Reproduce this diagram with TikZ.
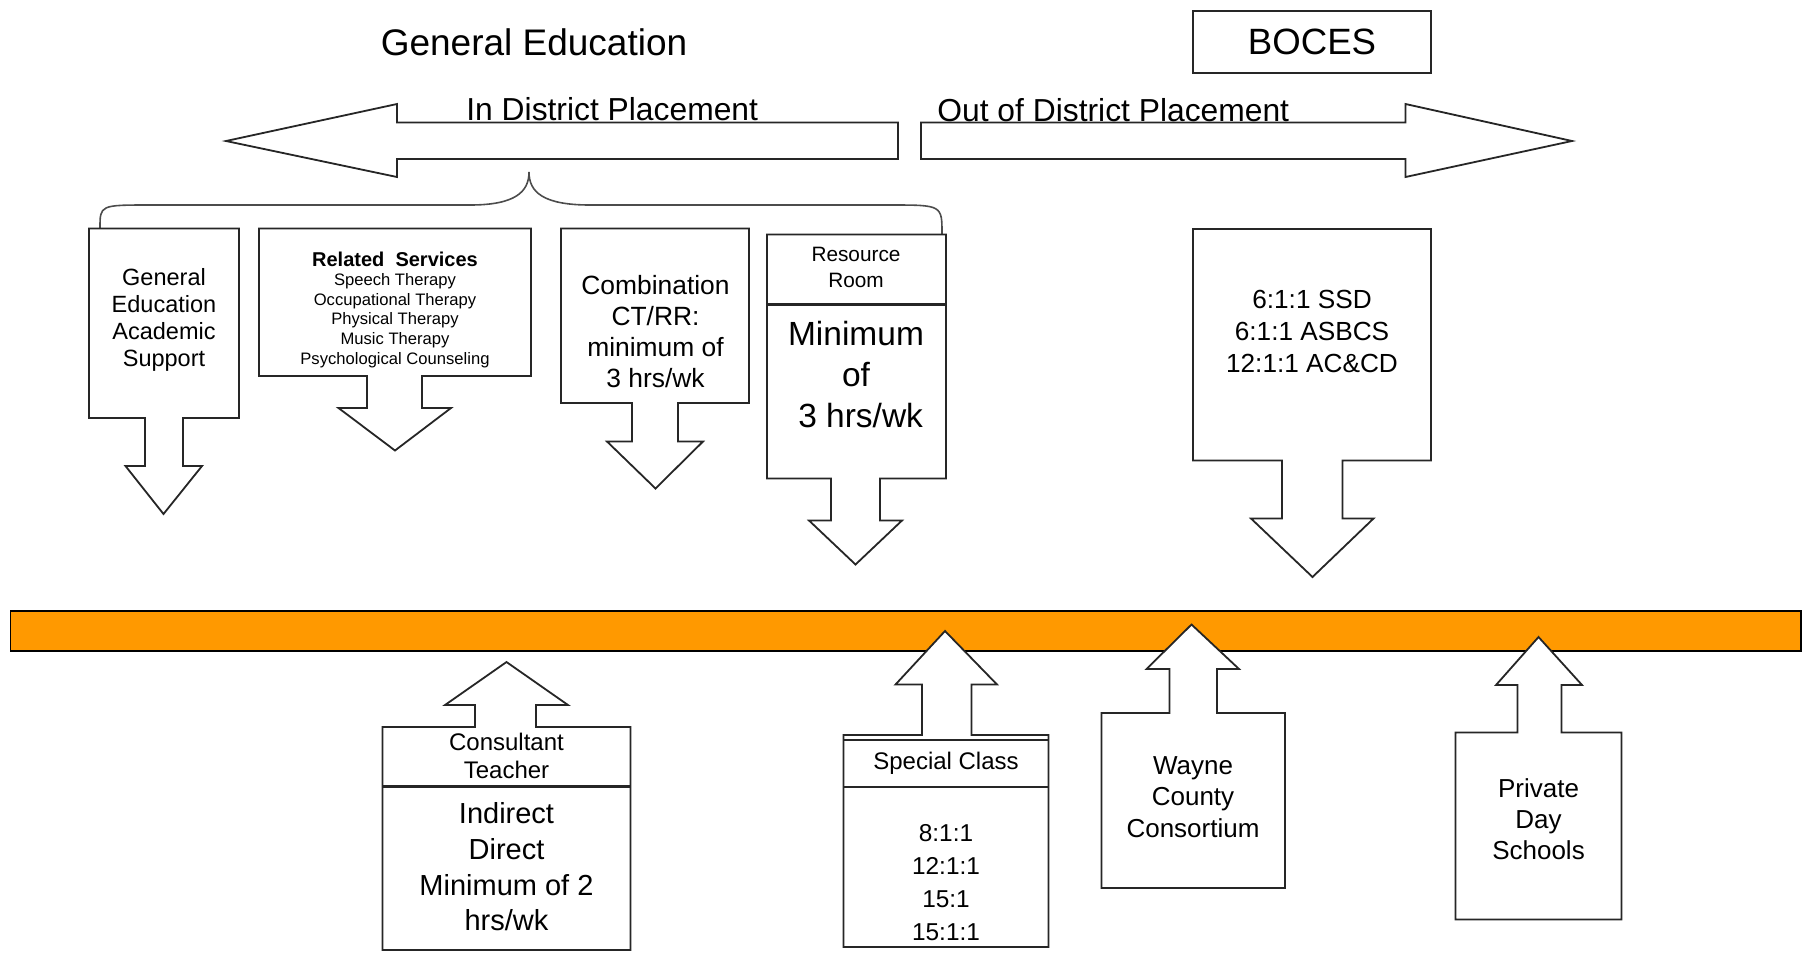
\documentclass[tikz,border=0pt]{standalone}
\usepackage{fontspec}
\setmainfont{Liberation Sans}
\definecolor{barorange}{RGB}{255,153,0}

\begin{document}
\begin{tikzpicture}[x=0.5pt, y=-0.5pt,
  callout/.style={draw=black!85, fill=white, line width=0.9pt},
  divider/.style={draw=black!85, line width=1.1pt},
  brace/.style={draw=black!70, line width=0.8pt},
  txt/.style={align=center, inner sep=0pt},
  fs/.style 2 args={font=\fontsize{#1}{#2}\selectfont}]
\useasboundingbox (0,0) rectangle (1807,955);
% Headings
\node[txt, fs={18.5}{22}, anchor=base] (gened) at (534,55) {General Education};
\draw[callout] (1193,11) rectangle (1431,73);
\node[txt, fs={18.3}{22}, anchor=base] (boces) at (1312,54) {BOCES};
% Draw placement arrows
\draw[callout] (226,141) -- (397,104) -- (397,122.5) -- (898,122.5) -- (898,159)
  -- (397,159) -- (397,177) -- cycle;
\draw[callout] (921,122.5) -- (1405.5,122.5) -- (1405.5,104) -- (1572,141)
  -- (1405.5,177) -- (1405.5,159) -- (921,159) -- cycle;
\node[txt, fs={15.9}{19}, anchor=base west] (indist) at (466,120) {In District Placement};
\node[txt, fs={15.9}{19}, anchor=base west] (outdist) at (937,121) {Out of District Placement};
% Draw brace
\draw[brace] (100,228) .. controls (100,205) .. (150,205) -- (470,205)
  .. controls (515,205) and (529,192) .. (529,172)
  .. controls (529,192) and (543,205) .. (590,205) -- (890,205)
  .. controls (942,205) .. (942,234);
% Orange bar
\draw[draw=black, line width=0.9pt, fill=barorange] (10.4,611) rectangle (1801,651);
% Draw in district boxes
\draw[callout] (89,228.5) -- (239,228.5) -- (239,418) -- (183,418) -- (183,466)
  -- (202,466) -- (163.5,514) -- (125.5,466) -- (145,466) -- (145,418) -- (89,418) -- cycle;
\node[txt, fs={11.75}{13.6}] (support) at (164,320)
  {General\\Education\\Academic\\Support};
\draw[callout] (259,228.5) -- (531,228.5) -- (531,376) -- (422,376) -- (422,408)
  -- (451,408) -- (395,450.5) -- (338.5,408) -- (367,408) -- (367,376) -- (259,376) -- cycle;
\node[txt, font=\bfseries\fontsize{10}{12}\selectfont] (related) at (395,259)
  {Related\ \ Services};
\node[txt, fs={8.3}{9.8}] (therapies) at (395,320.5)
  {Speech Therapy\\Occupational Therapy\\Physical Therapy\\Music Therapy\\Psychological Counseling};
\draw[callout] (561,228.5) -- (749,228.5) -- (749,403) -- (678,403) -- (678,441.5)
  -- (703,441.5) -- (655.5,488.5) -- (607,441.5) -- (632,441.5) -- (632,403) -- (561,403) -- cycle;
\node[txt, fs={13.2}{15.5}] (combo) at (655.5,331.5)
  {Combination\\CT/RR:\\minimum of\\3 hrs/wk};
\draw[callout] (767,234.5) -- (946,234.5) -- (946,478.5) -- (880,478.5) -- (880,520.5)
  -- (902,520.5) -- (855.5,564.5) -- (809,520.5) -- (831,520.5) -- (831,478.5) -- (767,478.5) -- cycle;
\draw[divider] (767,304.5) -- (946,304.5);
\node[txt, fs={10.4}{12.6}] (resource) at (856,267.5) {Resource\\Room};
\node[txt, fs={16.75}{20.5}] (rrmin) at (856,375) {Minimum\\of\\\ 3 hrs/wk};
% Draw BOCES box
\draw[callout] (1193,229) -- (1431,229) -- (1431,460.5) -- (1342.5,460.5) -- (1342.5,518.5)
  -- (1373.5,518.5) -- (1312.5,577) -- (1251,518.5) -- (1282,518.5) -- (1282,460.5) -- (1193,460.5) -- cycle;
\node[txt, fs={13.1}{15.8}] (classes) at (1312,331.5)
  {6:1:1 SSD\\6:1:1 ASBCS\\12:1:1 AC\&CD};
% Draw boxes below the bar
\draw[callout] (382.5,727) -- (475,727) -- (475,705) -- (445,705) -- (506.5,662)
  -- (568,705) -- (536,705) -- (536,727) -- (630.5,727) -- (630.5,950) -- (382.5,950) -- cycle;
\draw[divider] (382.5,786.5) -- (630.5,786.5);
\node[txt, fs={12}{13.9}] (consult) at (506.5,756) {Consultant\\Teacher};
\node[txt, fs={14.5}{17.85}] (ctmin) at (506.5,867)
  {Indirect\\Direct\\Minimum of 2\\hrs/wk};
\draw[callout] (843.5,735) -- (922,735) -- (922,684.5) -- (895.5,684.5) -- (945,631)
  -- (997,684.5) -- (971.5,684.5) -- (971.5,735) -- (1048.5,735) -- (1048.5,947) -- (843.5,947) -- cycle;
\draw[divider] (843.5,740) -- (1048.5,740);
\draw[divider] (843.5,787) -- (1048.5,787);
\node[txt, fs={12}{14}] (special) at (946,763) {Special Class};
\node[txt, fs={12.2}{16.5}] (ratios) at (946,882.5) {8:1:1\\12:1:1\\15:1\\15:1:1};
\draw[callout] (1101.5,713) -- (1169.5,713) -- (1169.5,669) -- (1146.5,669) -- (1191.5,624.5)
  -- (1239,669) -- (1217,669) -- (1217,713) -- (1285,713) -- (1285,888) -- (1101.5,888) -- cycle;
\node[txt, fs={13}{15.9}] (wayne) at (1193,797) {Wayne\\County\\Consortium};
\draw[callout] (1455.5,732.5) -- (1517.5,732.5) -- (1517.5,685) -- (1496,685) -- (1538.5,637)
  -- (1582,685) -- (1561.5,685) -- (1561.5,732.5) -- (1621.5,732.5) -- (1621.5,919.5) -- (1455.5,919.5) -- cycle;
\node[txt, fs={13}{15.6}] (private) at (1538.5,819) {Private\\Day\\Schools};
\end{tikzpicture}
\end{document}
